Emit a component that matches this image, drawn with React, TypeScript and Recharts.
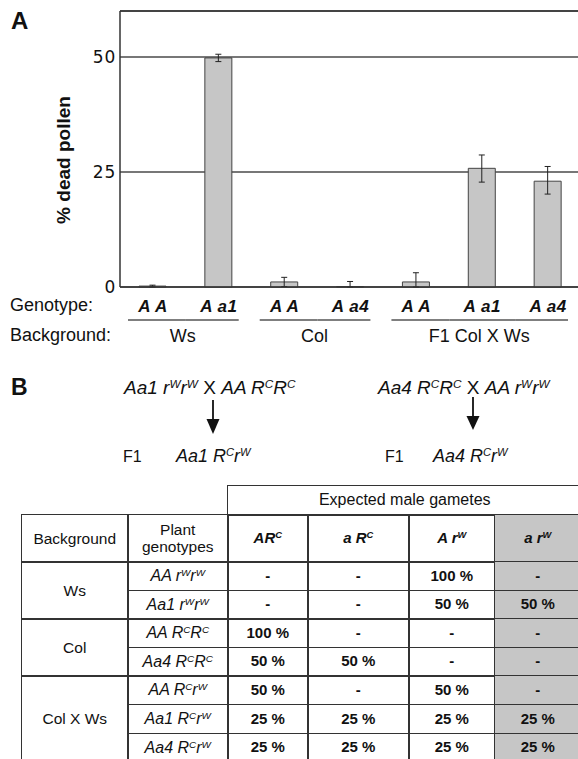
import { BarChart, Bar, XAxis, YAxis, CartesianGrid, ErrorBar, ReferenceLine, Label } from 'recharts';

// ---- panel A data ----
const genotypes = ['A A', 'A a1', 'A A', 'A a4', 'A A', 'A a1', 'A a4'];
const backgrounds = ['Ws', 'Ws', 'Col', 'Col', 'F1 Col X Ws', 'F1 Col X Ws', 'F1 Col X Ws'];
const deadPollen = [0.2, 49.8, 1.1, 0.1, 1.1, 25.8, 23.0];
const errLow = [0.2, 0.8, 1.0, 0.1, 1.1, 3.0, 2.8];
const errHigh = [0.2, 0.8, 1.0, 1.1, 2.0, 2.9, 3.2];
const yTicks = [0, 25, 50];

// ---- panel B data ----
const crosses = [
  ['Aa1 r^Wr^W', 'AA R^CR^C'],
  ['Aa4 R^CR^C', 'AA r^Wr^W'],
];
const f1Genotypes = ['Aa1 R^Cr^W', 'Aa4 R^Cr^W'];
const gametes = ['AR^C', 'a R^C', 'A r^W', 'a r^W'];
const tableGroups = ['Ws', 'Col', 'Col X Ws'];
const groupSizes = [2, 2, 3];
const plantGenotypes = ['AA r^Wr^W', 'Aa1 r^Wr^W', 'AA R^CR^C', 'Aa4 R^CR^C', 'AA R^Cr^W', 'Aa1 R^Cr^W', 'Aa4 R^Cr^W'];
const gameteShares = [
  ['-', '-', '100 %', '-'],
  ['-', '-', '50 %', '50 %'],
  ['100 %', '-', '-', '-'],
  ['50 %', '50 %', '-', '-'],
  ['50 %', '-', '50 %', '-'],
  ['25 %', '25 %', '25 %', '25 %'],
  ['25 %', '25 %', '25 %', '25 %'],
];

const data = genotypes.map((g, i) => ({
  id: `${i}`,
  genotype: g,
  value: deadPollen[i],
  err: [errLow[i], errHigh[i]],
}));

// layout
const SANS = '"Liberation Sans", Arial, sans-serif';
const CHART_W = 590;
const CHART_H = 352;
const Y_W = 120;
const MARGIN = { top: 11, right: 9, left: 0, bottom: 0 };
const STEP = (CHART_W - MARGIN.right - Y_W) / genotypes.length;
const INK = '#111';
const LINE = '#333';
const GRAY = '#c6c6c6';

const supStyle = { fontSize: '0.62em', verticalAlign: '0.55em', lineHeight: 0 } as const;

function Geno({ text }: { text: string }) {
  const parts = text.split(/(\^.)/).filter(Boolean);
  return (
    <>
      {parts.map((p, k) =>
        p.startsWith('^') ? <span key={k} style={supStyle}>{p.slice(1)}</span> : <span key={k}>{p}</span>
      )}
    </>
  );
}

// genotype tick + group underline + background label
const GenotypeTick = (props: any) => {
  const { x, y } = props;
  const i: number = props.index ?? props.payload?.index ?? 0;
  const bg = backgrounds[i];
  const first = i === 0 || backgrounds[i - 1] !== bg;
  const last = i === backgrounds.length - 1 || backgrounds[i + 1] !== bg;
  const x1 = x - STEP / 2 + (first ? 8 : 0);
  const x2 = x + STEP / 2 - (last ? 13 : 0);
  const n = backgrounds.filter((b) => b === bg).length;
  return (
    <g>
      <text x={x} y={y + 25} textAnchor="middle" fontFamily={SANS} fontSize={17} fontWeight="bold" fontStyle="italic" letterSpacing={0.5} fill={INK}>
        {genotypes[i]}
      </text>
      <line x1={x1} x2={x2} y1={y + 33} y2={y + 33} stroke="#555" strokeWidth={1.5} />
      {first && (
        <text x={x - STEP / 2 + (n * STEP) / 2 - 3} y={y + 54.5} textAnchor="middle" fontFamily={SANS} fontSize={18} fill={INK}>
          {bg}
        </text>
      )}
    </g>
  );
};

const YLabel = (p: any) => {
  const vb = p.viewBox || { x: 0, y: 11, width: Y_W, height: 276 };
  const cx = vb.x + 63;
  const cy = vb.y + vb.height / 2 + 11;
  return (
    <text x={cx} y={cy} transform={`rotate(-90, ${cx}, ${cy})`} textAnchor="middle" dominantBaseline="central" fontFamily={SANS} fontSize={19} fontWeight="bold" fill={INK}>
      % dead pollen
    </text>
  );
};

// table geometry
const COL_X = [21, 127, 227, 307, 408, 494, 580];
const HEAD_TOP = 485;
const BODY_TOP = 514;
const HEADER_H = 47;
const ROW_H = 28.6;
const BW = 1.5;

function Cell({ c0, c1, y0, y1, fill, style, children, borders }: any) {
  const b = borders || { top: true, left: true, right: true, bottom: true };
  const line = `${BW}px solid ${LINE}`;
  return (
    <div
      style={{
        position: 'absolute',
        left: COL_X[c0],
        top: y0,
        width: COL_X[c1] - COL_X[c0] + BW,
        height: y1 - y0 + BW,
        boxSizing: 'border-box',
        borderTop: b.top ? line : 'none',
        borderLeft: b.left ? line : 'none',
        borderRight: b.right ? line : 'none',
        borderBottom: b.bottom ? line : 'none',
        background: fill || 'transparent',
        display: 'flex',
        alignItems: 'center',
        justifyContent: 'center',
        textAlign: 'center',
        whiteSpace: 'nowrap',
        fontSize: 15.5,
        lineHeight: 1.12,
        ...style,
      }}
    >
      {children}
    </div>
  );
}

export default function App() {
  const rowTop = (r: number) => BODY_TOP + HEADER_H + r * ROW_H;
  let groupStart = 0;

  return (
    <div style={{ position: 'absolute', left: 0, top: 0, width: 578, height: 759, overflow: 'hidden', background: '#fff', fontFamily: SANS, color: INK }}>
      {/* Panel A */}
      <div style={{ position: 'absolute', left: 11, top: 9, fontSize: 24, fontWeight: 'bold', lineHeight: 1 }}>A</div>

      <div style={{ position: 'absolute', left: 0, top: 0 }}>
        <BarChart width={CHART_W} height={CHART_H} data={data} margin={MARGIN} barSize={27}>
          <CartesianGrid horizontal vertical={false} stroke="#4a4a4a" strokeWidth={1.5} />
          <ReferenceLine y={60} stroke={LINE} strokeWidth={1.5} />
          <XAxis
            dataKey="id"
            interval={0}
            height={CHART_H - 287}
            tickLine={false}
            tickSize={0}
            tickMargin={0}
            axisLine={{ stroke: LINE, strokeWidth: 1.5 }}
            tick={<GenotypeTick />}
          />
          <YAxis
            width={Y_W}
            domain={[0, 60]}
            ticks={yTicks}
            tickLine={false}
            tickSize={0}
            tickMargin={4}
            axisLine={{ stroke: LINE, strokeWidth: 1.5 }}
            tick={{ fontFamily: 'DejaVu Sans', fontSize: 17, fill: INK, letterSpacing: 0.8 }}
          >
            <Label content={<YLabel />} />
          </YAxis>
          <Bar dataKey="value" fill={GRAY} stroke="#444" strokeWidth={1} isAnimationActive={false}>
            <ErrorBar dataKey="err" width={3} stroke="#222" strokeWidth={1} direction="y" />
          </Bar>
        </BarChart>
      </div>

      <div style={{ position: 'absolute', left: 10, top: 296, fontSize: 18, lineHeight: 1 }}>Genotype:</div>
      <div style={{ position: 'absolute', left: 10, top: 326, fontSize: 18, lineHeight: 1 }}>Background:</div>

      {/* Panel B */}
      <div style={{ position: 'absolute', left: 11, top: 376, fontSize: 23, fontWeight: 'bold', lineHeight: 1 }}>B</div>

      {crosses.map((cr, k) => (
        <div key={k} style={{ position: 'absolute', left: k === 0 ? 124 : 378, top: 378, fontSize: 19, fontStyle: 'italic', lineHeight: 1, whiteSpace: 'nowrap' }}>
          <Geno text={cr[0]} />
          <span style={{ fontStyle: 'normal' }}> X </span>
          <Geno text={cr[1]} />
        </div>
      ))}

      <svg width={578} height={759} style={{ position: 'absolute', left: 0, top: 0 }}>
        {[
          { x: 213, top: 400, base: 419, tip: 434 },
          { x: 473, top: 397, base: 416, tip: 430 },
        ].map((a, k) => (
          <g key={k}>
            <line x1={a.x} x2={a.x} y1={a.top} y2={a.base + 1} stroke="#111" strokeWidth={1.8} />
            <polygon points={`${a.x - 6.5},${a.base} ${a.x + 6.5},${a.base} ${a.x},${a.tip}`} fill="#111" />
          </g>
        ))}
      </svg>

      {f1Genotypes.map((g, k) => (
        <div key={k}>
          <div style={{ position: 'absolute', left: k === 0 ? 123 : 385, top: 449, fontSize: 16, lineHeight: 1 }}>F1</div>
          <div style={{ position: 'absolute', left: k === 0 ? 176 : 433, top: 447, fontSize: 18, fontStyle: 'italic', lineHeight: 1, whiteSpace: 'nowrap' }}>
            <Geno text={g} />
          </div>
        </div>
      ))}

      {/* Table */}
      <Cell c0={2} c1={6} y0={HEAD_TOP} y1={BODY_TOP} borders={{ top: true, left: true, right: false, bottom: true }} style={{ fontSize: 16 }}>
        Expected male gametes
      </Cell>
      <Cell c0={0} c1={1} y0={BODY_TOP} y1={BODY_TOP + HEADER_H}>Background</Cell>
      <Cell c0={1} c1={2} y0={BODY_TOP} y1={BODY_TOP + HEADER_H}>
        Plant
        <br />
        genotypes
      </Cell>
      {gametes.map((g, k) => (
        <Cell key={g} c0={2 + k} c1={3 + k} y0={BODY_TOP} y1={BODY_TOP + HEADER_H} fill={k === 3 ? GRAY : undefined}
          style={{ fontWeight: 'bold', fontStyle: 'italic', fontSize: 15 }}>
          <span><Geno text={g} /></span>
        </Cell>
      ))}

      {tableGroups.map((g, k) => {
        const r0 = groupStart;
        groupStart += groupSizes[k];
        return (
          <Cell key={g} c0={0} c1={1} y0={rowTop(r0)} y1={rowTop(r0 + groupSizes[k])}>
            {g}
          </Cell>
        );
      })}

      {plantGenotypes.map((pg, r) => (
        <div key={pg}>
          <Cell c0={1} c1={2} y0={rowTop(r)} y1={rowTop(r + 1)} style={{ fontStyle: 'italic', fontSize: 16 }}>
            <span><Geno text={pg} /></span>
          </Cell>
          {gameteShares[r].map((v, c) => (
            <Cell key={c} c0={2 + c} c1={3 + c} y0={rowTop(r)} y1={rowTop(r + 1)} fill={c === 3 ? GRAY : undefined}
              style={{ fontWeight: 'bold', fontSize: 15 }}>
              {v}
            </Cell>
          ))}
        </div>
      ))}
    </div>
  );
}
